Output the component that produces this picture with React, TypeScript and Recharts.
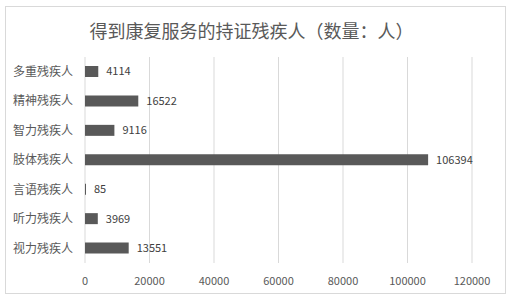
import React from "react";
import {
  BarChart,
  Bar,
  XAxis,
  YAxis,
  CartesianGrid,
  LabelList,
} from "recharts";

const categories = [
  "多重残疾人",
  "精神残疾人",
  "智力残疾人",
  "肢体残疾人",
  "言语残疾人",
  "听力残疾人",
  "视力残疾人",
];
const counts = [4114, 16522, 9116, 106394, 85, 3969, 13551];
const xTicks = [0, 20000, 40000, 60000, 80000, 100000, 120000];

const data = categories.map((name, i) => ({ name, value: counts[i] }));

const FONT = '"Noto Sans CJK SC", "Noto Sans", sans-serif';

const App: React.FC = () => {
  return (
    <div
      style={{
        position: "absolute",
        left: 0,
        top: 0,
        width: 509,
        height: 298,
        background: "#fff",
        fontFamily: FONT,
      }}
    >
      <div
        style={{
          position: "absolute",
          left: 5,
          top: 6,
          width: 499,
          height: 286,
          border: "1px solid #d9d9d9",
        }}
      />
      <div
        style={{
          position: "absolute",
          left: 0,
          top: 17,
          width: 503,
          textAlign: "center",
          fontSize: 18,
          color: "#595959",
          lineHeight: "26px",
        }}
      >
        得到康复服务的持证残疾人（数量：人）
      </div>
      <div style={{ position: "absolute", left: 0, top: 0 }}>
        <BarChart
          width={509}
          height={298}
          data={data}
          layout="vertical"
          margin={{ top: 57, right: 37, bottom: 5, left: 0 }}
          barSize={11}
        >
          <CartesianGrid horizontal={false} stroke="#d9d9d9" />
          <XAxis
            type="number"
            domain={[0, 120000]}
            ticks={xTicks}
            axisLine={false}
            tickLine={false}
            tick={{ fill: "#595959", fontSize: 11, fontFamily: FONT }}
            tickMargin={8}
            height={30}
            interval={0}
          />
          <YAxis
            type="category"
            dataKey="name"
            width={85}
            axisLine={false}
            tickLine={false}
            tickSize={0}
            tickMargin={12}
            tick={{ fill: "#595959", fontSize: 12, fontFamily: FONT }}
          />
          <Bar
            dataKey="value"
            fill="#595959"
            minPointSize={1}
            isAnimationActive={false}
          >
            <LabelList
              dataKey="value"
              position="right"
              offset={8}
              style={{ fill: "#404040", fontSize: 11, fontFamily: FONT }}
            />
          </Bar>
        </BarChart>
      </div>
    </div>
  );
};

export default App;
